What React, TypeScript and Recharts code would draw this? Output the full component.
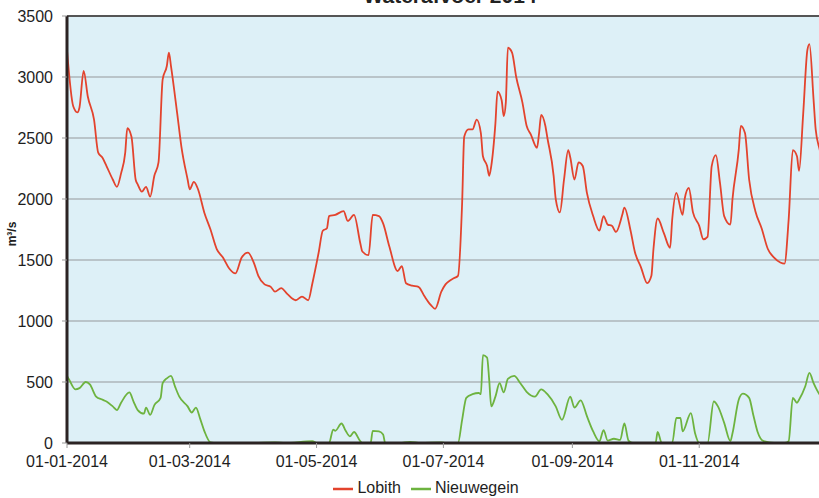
import { LineChart, Line, XAxis, YAxis, CartesianGrid, Legend, ReferenceLine } from "recharts";

// day of year (0 = 1 Jan 2014) and discharge in m3/s
const lobithDays = [
  0, 3, 5, 6, 8, 10, 13, 15, 17, 19, 22, 24, 26, 28, 29, 31, 33, 34, 36, 38, 40, 42, 44, 46, 48, 49, 50, 53, 55, 58,
  59, 61, 63, 66, 69, 72, 75, 78, 81, 84, 87, 90, 92, 95, 98, 100, 103, 106, 110, 113, 116, 118, 121, 123, 125, 126,
  129, 133, 135, 138, 141, 142, 145, 147, 150, 152, 155, 159, 161, 163, 166, 169, 172, 175, 177, 180, 182, 184, 186,
  188, 190, 191, 193, 195, 197, 199, 200, 202, 203, 204, 206, 207, 209, 210, 211, 212, 214, 216, 219, 221, 223, 226,
  227, 228, 230, 231, 234, 235, 237, 239, 241, 242, 244, 246, 248, 250, 253, 256, 258, 260, 262, 264, 267, 268, 271,
  273, 276, 279, 281, 282, 284, 287, 290, 291, 293, 296, 297, 299, 301, 304, 306, 308, 310, 312, 314, 316, 319, 320,
  323, 324, 326, 328, 331, 334, 337, 340, 343, 345, 347, 349, 351, 352, 354, 356, 357, 359, 360, 362, 364,
];
const lobithFlow = [
  3220, 2760, 2710, 2750, 3050, 2840, 2650, 2380, 2340, 2270, 2160, 2100, 2210, 2380, 2580, 2510, 2160, 2120, 2060,
  2100, 2020, 2190, 2300, 2980, 3090, 3200, 3090, 2700, 2430, 2160, 2080, 2140, 2080, 1890, 1750, 1590, 1520, 1430,
  1390, 1520, 1560, 1470, 1370, 1300, 1280, 1240, 1270, 1220, 1170, 1200, 1170, 1310, 1560, 1740, 1760, 1860, 1870,
  1900, 1820, 1870, 1640, 1570, 1540, 1870, 1860, 1800, 1610, 1410, 1450, 1310, 1290, 1280, 1200, 1130, 1100, 1240,
  1300, 1330, 1350, 1370, 1970, 2510, 2570, 2570, 2650, 2540, 2350, 2270, 2190, 2270, 2620, 2880, 2810, 2680, 2790,
  3240, 3200, 3000, 2790, 2600, 2530, 2420, 2540, 2690, 2600, 2500, 2190, 2000, 1890, 2160, 2400, 2340, 2160, 2300,
  2270, 2050, 1860, 1740, 1860, 1790, 1780, 1730, 1870, 1930, 1740, 1570, 1440, 1310, 1370, 1590, 1840, 1720, 1600,
  1830, 2050, 1870, 2000, 2090, 1890, 1780, 1670, 1690, 2270, 2360, 2130, 1860, 1790, 2000, 2400, 2600, 2540, 2160,
  1900, 1760, 1590, 1520, 1480, 1470, 1830, 2400, 2350, 2230, 2700, 3220, 3270, 2810, 2570, 2400, 2250,
];

const nieuwegeinDays = [
  0, 1, 4, 6, 9, 11, 14, 17, 19, 22, 24, 26, 30, 32, 34, 37, 38, 40, 42, 45, 46, 48, 50, 52, 54, 58, 60, 62, 64, 66,
  69, 72, 90, 100, 105, 118, 120, 126, 128, 129, 132, 134, 136, 138, 141, 142, 146, 147, 150, 152, 153, 160, 165, 170,
  180, 182, 188, 190, 192, 195, 198, 199, 200, 202, 203, 204, 206, 208, 210, 212, 215, 218, 221, 225, 228, 231, 235,
  238, 242, 244, 247, 250, 253, 256, 258, 260, 263, 266, 268, 270, 272, 283, 284, 286, 291, 293, 295, 296, 300, 302,
  304, 308, 311, 313, 316, 319, 320, 323, 325, 328, 330, 332, 335, 340, 345, 347, 349, 351, 352, 355, 357, 359, 362,
  364,
];
const nieuwegeinFlow = [
  550, 520, 440, 450, 500, 480, 380, 355, 340, 300, 270, 330, 415, 340, 270, 240, 290, 230, 310, 370, 490, 530, 550,
  460, 380, 300, 250, 290, 200, 100, 5, 0, 0, 5, 0, 15, 0, 0, 110, 100, 160, 100, 55, 90, 15, 0, 0, 100, 95, 70, 0, 0,
  10, 0, 5, 0, 0, 190, 370, 400, 410, 400, 720, 700, 520, 300, 380, 490, 415, 525, 550, 490, 420, 380, 440, 400, 300,
  190, 380, 290, 350, 220, 95, 15, 105, 20, 35, 25, 160, 20, 0, 0, 90, 0, 0, 205, 205, 95, 245, 80, 0, 0, 340, 300,
  165, 15, 80, 355, 405, 370, 230, 95, 15, 0, 0, 15, 370, 330, 355, 465, 575, 490, 395, 360,
];

const tickDays = [0, 59, 120, 181, 243, 304];
const tickLabels = ["01-01-2014", "01-03-2014", "01-05-2014", "01-07-2014", "01-09-2014", "01-11-2014"];
const yTicks = [0, 500, 1000, 1500, 2000, 2500, 3000, 3500];

const lobith = lobithDays.map((day, i) => ({ day, flow: lobithFlow[i] }));
const nieuwegein = nieuwegeinDays.map((day, i) => ({ day, flow: nieuwegeinFlow[i] }));

const font = "'Liberation Sans', Arial, sans-serif";

export default function App() {
  return (
    <div
      style={{
        position: "fixed",
        left: 0,
        top: 0,
        width: 819,
        height: 498,
        overflow: "hidden",
        background: "#fff",
        fontFamily: font,
      }}
    >
      <LineChart width={862} height={498} margin={{ top: 16, right: 38, bottom: 0, left: 0 }}>
        <CartesianGrid horizontal vertical={false} fill="#ddf0f7" stroke="#adb6ba" strokeWidth={1.5} />
        <XAxis
          type="number"
          dataKey="day"
          domain={[0, 364]}
          ticks={tickDays}
          tickFormatter={(d: number) => tickLabels[tickDays.indexOf(d)]}
          height={30}
          tickSize={5}
          tickMargin={8}
          tick={{ fontSize: 16, fill: "#1e1e1e", fontFamily: font }}
          tickLine={{ stroke: "#999" }}
          axisLine={{ stroke: "#2b2323", strokeWidth: 3 }}
        />
        <YAxis
          domain={[0, 3500]}
          ticks={yTicks}
          width={67}
          tickSize={5}
          tickMargin={9}
          tick={{ fontSize: 16, fill: "#1e1e1e", fontFamily: font }}
          tickLine={{ stroke: "#999" }}
          axisLine={{ stroke: "#2b2323", strokeWidth: 3 }}
          interval={0}
        />
        <ReferenceLine y={3500} stroke="#555" strokeWidth={2} />
        <Line
          data={lobith}
          dataKey="flow"
          name="Lobith"
          type="monotone"
          stroke="#e3432d"
          strokeWidth={1.8}
          dot={false}
          legendType="plainline"
          isAnimationActive={false}
        />
        <Line
          data={nieuwegein}
          dataKey="flow"
          name="Nieuwegein"
          type="monotone"
          stroke="#6db33f"
          strokeWidth={1.8}
          dot={false}
          legendType="plainline"
          isAnimationActive={false}
        />
        <Legend
          verticalAlign="bottom"
          height={25}
          iconSize={20}
          wrapperStyle={{ left: 0, width: 862, bottom: -6, fontSize: 16, fontFamily: font }}
          formatter={(v: string) => <span style={{ color: "#1e1e1e" }}>{v}</span>}
        />
        <text x={450} y={3} textAnchor="middle" fontSize={21} fontWeight="bold" fill="#222" fontFamily={font}>
          Waterafvoer 2014
        </text>
        <text
          x={16}
          y={234}
          textAnchor="middle"
          fontSize={12}
          fontWeight="bold"
          fill="#222"
          fontFamily={font}
          transform="rotate(-90 16 234)"
        >
          m³/s
        </text>
      </LineChart>
    </div>
  );
}
